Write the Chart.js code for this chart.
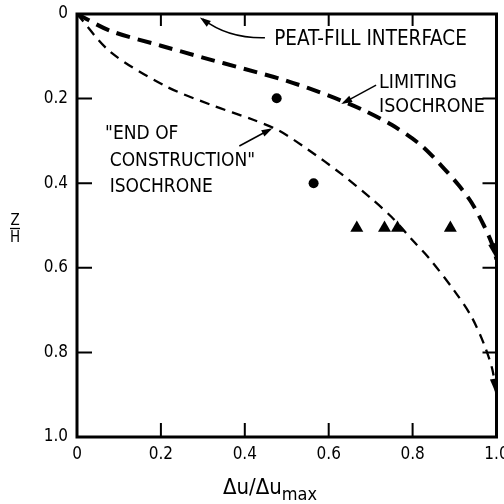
<!DOCTYPE html>
<html>
<head>
<meta charset="utf-8">
<script src="https://cdn.jsdelivr.net/npm/chart.js@4/dist/chart.umd.min.js"></script>
<style>
html,body{margin:0;padding:0;background:#fff;}
#wrap{width:504px;height:504px;}
</style>
</head>
<body>
<div id="wrap"><canvas id="c" width="504" height="504"></canvas></div>
<script>
// ---- data ----
const xTickLabels = ['0', '0.2', '0.4', '0.6', '0.8', '1.0'];
const yTickLabels = ['0', '0.2', '0.4', '0.6', '0.8', '1.0'];

const limitingX = [0, 0.08, 0.2, 0.3, 0.4, 0.5, 0.6, 0.68, 0.75, 0.82, 0.87, 0.91, 0.94, 0.97, 0.99, 1.0];
const limitingY = [0, 0.04, 0.075, 0.103, 0.13, 0.158, 0.193, 0.226, 0.262, 0.31, 0.36, 0.405, 0.445, 0.5, 0.545, 0.58];

const endX = [0, 0.08, 0.21, 0.32, 0.42, 0.48, 0.55, 0.63, 0.70, 0.75, 0.80, 0.84, 0.90, 0.94, 0.97, 0.99, 1.0];
const endY = [0, 0.09, 0.17, 0.215, 0.25, 0.275, 0.32, 0.378, 0.435, 0.48, 0.535, 0.578, 0.655, 0.715, 0.78, 0.84, 0.9];

const circleX = [0.476, 0.564];
const circleY = [0.199, 0.40];

const triangleX = [0.667, 0.733, 0.764, 0.89];
const triangleY = [0.506, 0.506, 0.506, 0.506];

const toPts = (xs, ys) => xs.map((x, i) => ({x: x, y: ys[i]}));
const labelFor = (arr, v) => arr[Math.round(v * (arr.length - 1))];

const FONT = '"DejaVu Sans Condensed", "Liberation Sans Narrow", "DejaVu Sans", sans-serif';

function arrowHead(ctx, x1, y1, x2, y2, len, half) {
  const a = Math.atan2(y2 - y1, x2 - x1);
  ctx.beginPath();
  ctx.moveTo(x2, y2);
  ctx.lineTo(x2 - len * Math.cos(a) + half * Math.sin(a), y2 - len * Math.sin(a) - half * Math.cos(a));
  ctx.lineTo(x2 - len * Math.cos(a) - half * Math.sin(a), y2 - len * Math.sin(a) + half * Math.cos(a));
  ctx.closePath();
  ctx.fill();
}

const decor = {
  id: 'decor',
  afterDatasetsDraw(chart) {
    const ctx = chart.ctx;
    const xs = chart.scales.x, ys = chart.scales.y;
    const ca = chart.chartArea;
    const px = v => xs.getPixelForValue(v);
    const py = v => ys.getPixelForValue(v);
    ctx.save();
    ctx.strokeStyle = '#000';
    ctx.fillStyle = '#000';
    // frame
    ctx.lineWidth = 3;
    ctx.strokeRect(ca.left, ca.top, ca.right - ca.left, ca.bottom - ca.top);
    // inward ticks
    ctx.lineWidth = 2;
    [0.2, 0.4, 0.6, 0.8].forEach(v => {
      ctx.beginPath();
      ctx.moveTo(px(v), ca.bottom); ctx.lineTo(px(v), ca.bottom - 14);
      ctx.moveTo(px(v), ca.top); ctx.lineTo(px(v), ca.top + 12);
      ctx.moveTo(ca.left, py(v)); ctx.lineTo(ca.left + 15, py(v));
      ctx.moveTo(ca.right, py(v)); ctx.lineTo(ca.right - 14, py(v));
      ctx.stroke();
    });
    // arrow heads at ends of curves
    [[limitingX, limitingY], [endX, endY]].forEach(([X, Y]) => {
      const n = X.length;
      arrowHead(ctx, px(X[n - 2]), py(Y[n - 2]), px(X[n - 1]), py(Y[n - 1]), 16, 4);
    });
    // leader lines
    ctx.lineWidth = 1.5;
    // peat-fill interface
    ctx.beginPath();
    ctx.moveTo(px(0.448), py(0.056));
    ctx.quadraticCurveTo(px(0.36), py(0.058), px(0.30), py(0.012));
    ctx.stroke();
    arrowHead(ctx, px(0.33), py(0.035), px(0.293), py(0.008), 11, 3.5);
    // limiting
    ctx.beginPath();
    ctx.moveTo(px(0.713), py(0.168));
    ctx.lineTo(px(0.635), py(0.21));
    ctx.stroke();
    arrowHead(ctx, px(0.713), py(0.168), px(0.63), py(0.213), 11, 3.5);
    // end of construction
    ctx.beginPath();
    ctx.moveTo(px(0.387), py(0.312));
    ctx.lineTo(px(0.46), py(0.273));
    ctx.stroke();
    arrowHead(ctx, px(0.387), py(0.312), px(0.466), py(0.27), 11, 3.5);

    // annotation text
    ctx.textBaseline = 'middle';
    ctx.textAlign = 'left';
    ctx.font = '20.5px ' + FONT;
    ctx.fillText('PEAT-FILL INTERFACE', px(0.47), py(0.061));
    ctx.font = '19.5px ' + FONT;
    ctx.fillText('LIMITING', px(0.72), py(0.163));
    ctx.fillText('ISOCHRONE', px(0.72), py(0.22));
    ctx.font = '19px ' + FONT;
    ctx.fillText('"END OF', px(0.067), py(0.284));
    ctx.fillText('CONSTRUCTION"', px(0.078), py(0.347));
    ctx.fillText('ISOCHRONE', px(0.078), py(0.41));

    // x axis title with subscript
    ctx.textBaseline = 'alphabetic';
    const main = '\u0394u/\u0394u';
    ctx.font = '22px ' + FONT;
    const w1 = ctx.measureText(main).width;
    ctx.font = '18px ' + FONT;
    const w2 = ctx.measureText('max').width;
    const x0 = 223;
    ctx.font = '22px ' + FONT;
    ctx.fillText(main, x0, 494);
    ctx.font = '18px ' + FONT;
    ctx.fillText('max', x0 + w1, 500);

    // y axis title as fraction Z/H
    ctx.font = '15px ' + FONT;
    ctx.textAlign = 'center';
    ctx.fillText('Z', 15, 225);
    ctx.lineWidth = 1.3;
    ctx.beginPath(); ctx.moveTo(10, 228.5); ctx.lineTo(20, 228.5); ctx.stroke();
    ctx.fillText('H', 15, 242);
    ctx.restore();
  }
};

new Chart(document.getElementById('c'), {
  type: 'scatter',
  data: {
    datasets: [
      {
        type: 'line', data: toPts(limitingX, limitingY),
        borderColor: '#000', borderWidth: 4, borderDash: [14, 8],
        pointRadius: 0, tension: 0.3, fill: false
      },
      {
        type: 'line', data: toPts(endX, endY),
        borderColor: '#000', borderWidth: 2.3, borderDash: [10, 7],
        pointRadius: 0, tension: 0.3, fill: false
      },
      {
        data: toPts(circleX, circleY),
        pointStyle: 'circle', pointRadius: 5,
        backgroundColor: '#000', borderColor: '#000', borderWidth: 0
      },
      {
        data: toPts(triangleX, triangleY),
        pointStyle: 'triangle', pointRadius: 7.5,
        backgroundColor: '#000', borderColor: '#000', borderWidth: 0
      }
    ]
  },
  options: {
    responsive: false,
    animation: false,
    events: [],
    layout: {padding: {top: 14, right: 6, left: 0, bottom: 0}},
    plugins: {legend: {display: false}, tooltip: {enabled: false}},
    scales: {
      x: {
        type: 'linear', min: 0, max: 1,
        grid: {display: false, drawTicks: false},
        border: {display: false},
        ticks: {
          stepSize: 0.2, padding: 7, color: '#000',
          font: {size: 17, family: FONT},
          maxRotation: 0,
          callback: v => labelFor(xTickLabels, v)
        },
        afterFit: s => { s.height = 67; s.paddingLeft = 0; s.paddingRight = 0; }
      },
      y: {
        type: 'linear', min: 0, max: 1, reverse: true,
        grid: {display: false, drawTicks: false},
        border: {display: false},
        ticks: {
          stepSize: 0.2, padding: 9, color: '#000',
          font: {size: 17, family: FONT},
          callback: v => labelFor(yTickLabels, v)
        },
        afterFit: s => { s.width = 77; s.paddingTop = 0; s.paddingBottom = 0; }
      }
    }
  },
  plugins: [decor]
});
</script>
</body>
</html>
